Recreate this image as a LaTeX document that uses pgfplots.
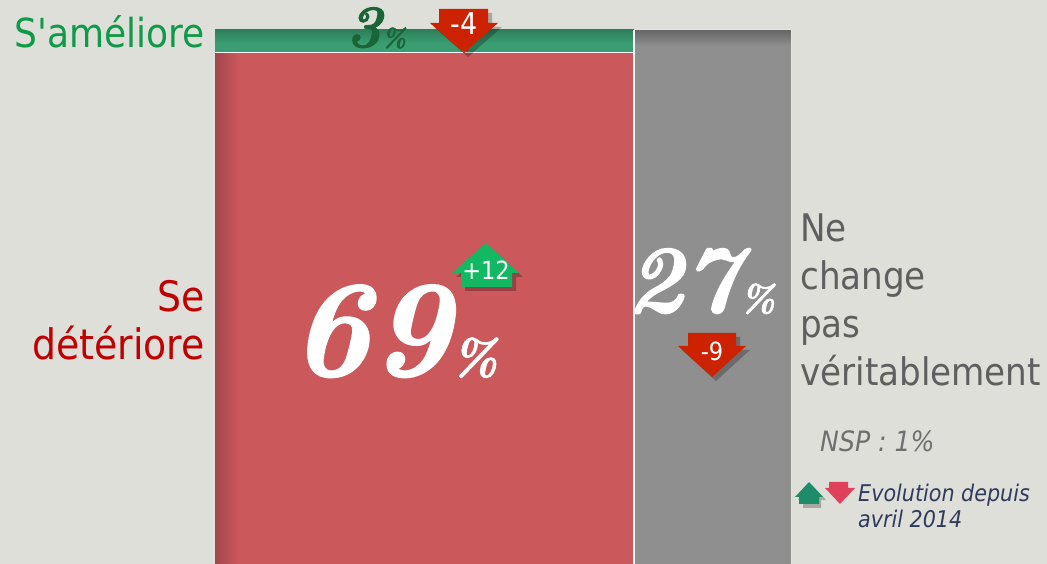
\documentclass[border=0pt]{standalone}
\usepackage{pgfplots}
\pgfplotsset{compat=1.18}
\usepackage{fontspec}
\newfontfamily\tah[Ligatures=TeXOff]{DejaVu Sans Condensed}
\newfontfamily\numfont[FakeBold=1.6]{lmroman10-bolditalic.otf}
\definecolor{bg}{HTML}{DFDFDA}
\definecolor{barred}{HTML}{CB585B}
\definecolor{barreddark}{HTML}{A2464C}
\definecolor{bargreen}{HTML}{3A9E72}
\definecolor{bargreendark}{HTML}{2E7F5B}
\definecolor{bargray}{HTML}{8F8F8F}
\definecolor{bargraydark}{HTML}{666666}
\definecolor{txtgreen}{HTML}{0E9A48}
\definecolor{txtred}{HTML}{C00000}
\definecolor{txtgray}{HTML}{5F5F5F}
\definecolor{darkgreen}{HTML}{1A6438}
\definecolor{arrred}{HTML}{CC2200}
\definecolor{arrgreen}{HTML}{12B862}
\definecolor{leggreen}{HTML}{1E8C68}
\definecolor{legred}{HTML}{E0405A}
\definecolor{navy}{HTML}{2F3B5C}
\begin{document}
\begin{tikzpicture}[x=1pt,y=1pt]
\useasboundingbox (0,0) rectangle (1047,564);
\fill[bg] (0,0) rectangle (1047,564);
\begin{axis}[at={(0pt,0pt)}, anchor=south west, scale only axis,
  width=1047pt, height=564pt, hide axis,
  xmin=-36.954, xmax=143.0, ymin=0, ymax=105.618, clip=true]
% Se detériore : 69 %, column width 72 (69+3)
\addplot[draw=none, fill=barred] coordinates {(0,0) (72,0) (72,95.833) (0,95.833)} -- cycle;
% S'améliore : 3 %
\addplot[draw=none, fill=bargreen] coordinates {(0,95.833) (72,95.833) (72,100) (0,100)} -- cycle;
% Ne change pas : 27 %
\addplot[draw=none, fill=bargray] coordinates {(72,0) (99,0) (99,100) (72,100)} -- cycle;
% shading overlays
\addplot[draw=none, left color=barreddark, right color=barred] coordinates {(0,0) (4,0) (4,95.833) (0,95.833)} -- cycle;
\addplot[draw=none, top color=bargraydark, bottom color=bargray] coordinates {(72,97.0) (99,97.0) (99,100) (72,100)} -- cycle;
\addplot[draw=none, top color=bargreendark, bottom color=bargreen] coordinates {(0,97.5) (72,97.5) (72,100) (0,100)} -- cycle;
% separators
\addplot[white, line width=1.2pt] coordinates {(0,95.833) (72,95.833)};
\addplot[white, line width=1.2pt] coordinates {(72,0) (72,100)};
\addplot[white!80!gray, line width=1pt] coordinates {(72,100) (99,100) (99,0)};
\end{axis}
% arrows shadows
\fill[black, opacity=0.25] (443,551) -- (492,551) -- (492,537) -- (502,537) -- (468,507) -- (434,537) -- (443,537) -- cycle;
\fill[black, opacity=0.25] (692,227) -- (740,227) -- (740,214) -- (750,214) -- (716,183) -- (682,214) -- (692,214) -- cycle;
\fill[black, opacity=0.25] (465,273) -- (516,273) -- (516,287) -- (523,287) -- (490,317) -- (456,287) -- (465,287) -- cycle;
% -4 arrow
\fill[arrred] (439,555) -- (488,555) -- (488,541) -- (498,541) -- (464,511) -- (430,541) -- (439,541) -- cycle;
\node[white, font=\tah\fontsize{30pt}{30pt}\selectfont, anchor=center] at (464,540) {-4};
% -9 arrow
\fill[arrred] (688,231) -- (736,231) -- (736,218) -- (746,218) -- (712,187) -- (678,218) -- (688,218) -- cycle;
\node[white, font=\tah\fontsize{25pt}{25pt}\selectfont, anchor=center] at (712,213) {-9};
% +12 arrow
\fill[arrgreen] (461,277) -- (512,277) -- (512,291) -- (519,291) -- (486,321) -- (452,291) -- (461,291) -- cycle;
\node[white, font=\tah\fontsize{25pt}{25pt}\selectfont, anchor=center] at (486,294) {+12};
% category labels
\node[txtgreen, font=\tah\fontsize{40pt}{48pt}\selectfont, anchor=base east, inner sep=0pt] at (205,516) {S'améliore};
\node[txtred, font=\tah\fontsize{42pt}{48pt}\selectfont, anchor=base east, inner sep=0pt] at (205,252) {Se};
\node[txtred, font=\tah\fontsize{42pt}{48pt}\selectfont, anchor=base east, inner sep=0pt] at (205,204) {détériore};
\node[txtgray, font=\tah\fontsize{38pt}{48pt}\selectfont, anchor=base west, inner sep=0pt] at (800,322) {Ne};
\node[txtgray, font=\tah\fontsize{38pt}{48pt}\selectfont, anchor=base west, inner sep=0pt] at (800,274) {change};
\node[txtgray, font=\tah\fontsize{38pt}{48pt}\selectfont, anchor=base west, inner sep=0pt] at (800,226) {pas};
\node[txtgray, font=\tah\fontsize{38pt}{48pt}\selectfont, anchor=base west, inner sep=0pt] at (800,178) {véritablement};
% values
\node[white, anchor=base west, inner sep=0pt] at (290,189) {\numfont\fontsize{136pt}{136pt}\selectfont 69\fontsize{50pt}{50pt}\selectfont\%};
\node[white, anchor=base west, inner sep=0pt] at (626,252) {\numfont\fontsize{96pt}{96pt}\selectfont 27\fontsize{38pt}{38pt}\selectfont\%};
\node[darkgreen, anchor=base west, inner sep=0pt] at (346,517) {\numfont\fontsize{60pt}{60pt}\selectfont 3\fontsize{26pt}{26pt}\selectfont\%};
% notes
\node[txtgray!90, font=\tah\fontsize{28pt}{28pt}\selectfont\itshape, anchor=base west, inner sep=0pt] at (820,112) {NSP : 1\%};
\fill[black, opacity=0.25] (812,79) -- (826,64) -- (821,64) -- (821,56) -- (803,56) -- (803,64) -- (798,64) -- cycle;
\fill[leggreen] (809,82) -- (823,67) -- (819,67) -- (819,60) -- (799,60) -- (799,67) -- (795,67) -- cycle;
\fill[legred] (829,82) -- (848,82) -- (848,76) -- (855,76) -- (840,60) -- (825,76) -- (829,76) -- cycle;
\node[navy, font=\tah\fontsize{23pt}{23pt}\selectfont\itshape, anchor=base west, inner sep=0pt] at (858,62) {Evolution depuis};
\node[navy, font=\tah\fontsize{23pt}{23pt}\selectfont\itshape, anchor=base west, inner sep=0pt] at (858,36) {avril 2014};
\end{tikzpicture}
\end{document}
